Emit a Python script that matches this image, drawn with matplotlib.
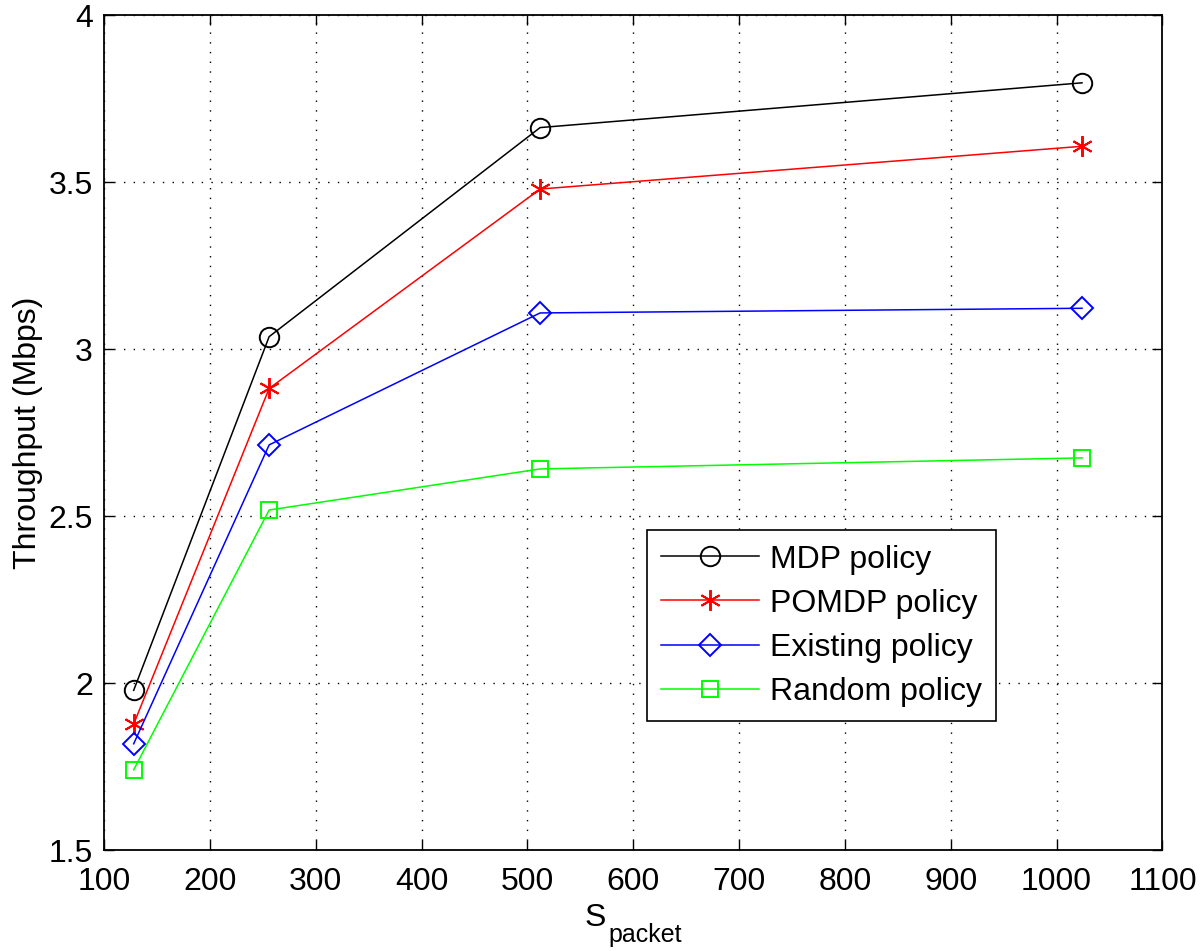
import matplotlib
matplotlib.use("Agg")
import matplotlib.pyplot as plt

plt.rcParams['font.family'] = ['Liberation Sans', 'DejaVu Sans']

# data
packet_sizes = [128, 256, 512, 1024]
mdp = [1.978, 3.037, 3.663, 3.797]
pomdp = [1.877, 2.882, 3.479, 3.607]
existing = [1.818, 2.713, 3.108, 3.122]
random_policy = [1.740, 2.518, 2.641, 2.674]

labels = ['MDP policy', 'POMDP policy', 'Existing policy', 'Random policy']
x_ticks = list(range(100, 1101, 100))
y_ticks = [1.5, 2, 2.5, 3, 3.5, 4]

fig = plt.figure(figsize=(12, 9.51), dpi=100)
ax = fig.add_axes([0.0867, 0.1062, 0.882, 0.878])

asterisk = (6, 2, 0)
ax.plot(packet_sizes, mdp, color='k', lw=1.1, marker='o', ms=14,
        mfc='none', mew=1.4, label=labels[0])
ax.plot(packet_sizes, pomdp, color='r', lw=1.1, marker=asterisk, ms=15,
        mew=1.4, label=labels[1])
ax.plot(packet_sizes, existing, color='b', lw=1.1, marker='D', ms=11,
        mfc='none', mew=1.4, label=labels[2])
ax.plot(packet_sizes, random_policy, color=(0, 1, 0), lw=1.1, marker='s',
        ms=12, mfc='none', mew=1.4, label=labels[3])

ax.set_xlim(100, 1100)
ax.set_ylim(1.5, 4)
ax.set_xticks(x_ticks)
ax.set_yticks(y_ticks)
ax.set_yticklabels([f'{v:g}' for v in y_ticks])
ax.tick_params(direction='in', length=7, width=1, labelsize=23,
               top=True, right=True)
ax.tick_params(axis='x', pad=12)
ax.tick_params(axis='y', pad=8)
ax.grid(True, color='k', linestyle=(0, (1, 6)), linewidth=1.0)
for s in ax.spines.values():
    s.set_linewidth(1.3)

# x label: "S" with a large subscript "packet"
ax.set_xlabel('S', fontsize=23)
ax.xaxis.set_label_coords(0.464, -0.064)
fig.text(0.5067, 0.0095, 'packet', fontsize=18, va='baseline', ha='left')

ax.set_ylabel('Throughput (Mbps)', fontsize=23)

leg = ax.legend(loc='upper right', bbox_to_anchor=(0.843, 0.383),
                fontsize=23, handlelength=3.05, handletextpad=0.35,
                borderpad=0.45, labelspacing=0.44, fancybox=False,
                framealpha=1, edgecolor='k', borderaxespad=0)
leg.get_frame().set_linewidth(1.2)

fig.savefig('out.png', dpi=100)
